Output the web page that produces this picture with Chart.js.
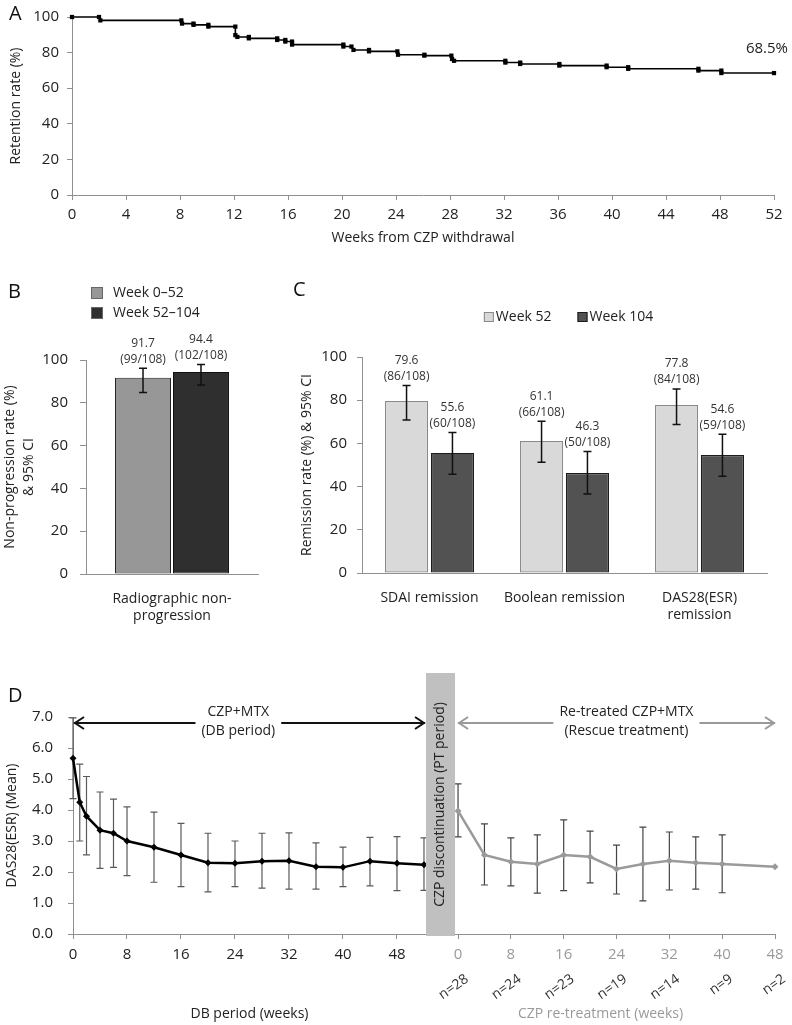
<!DOCTYPE html>
<html>
<head>
<meta charset="utf-8">
<script src="https://cdn.jsdelivr.net/npm/chart.js@4.4.1/dist/chart.umd.min.js"></script>
<style>
  body { margin: 0; background: #fff; width: 792px; height: 1025px; position: relative; overflow: hidden; }
  canvas { position: absolute; }
</style>
</head>
<body>
<canvas id="chartA" width="792" height="250" style="left:0;top:0"></canvas>
<canvas id="chartB" width="290" height="360" style="left:0;top:270px"></canvas>
<canvas id="chartC" width="502" height="360" style="left:290px;top:270px"></canvas>
<canvas id="chartD" width="792" height="375" style="left:0;top:650px"></canvas>
<script>
// ---------- data ----------
// A: retention (Kaplan-Meier steps)
const kmWeeks = [0, 2.0, 2.1, 8.1, 8.15, 9.0, 9.0, 10.1, 10.1, 12.1, 12.1, 12.25, 13.1, 13.1, 15.2, 15.2,
  15.8, 15.8, 16.3, 16.3, 20.1, 20.1, 20.7, 20.85, 22.0, 22.0, 24.1, 24.15, 26.1, 26.1, 28.1, 28.15,
  28.3, 32.1, 32.1, 33.2, 33.2, 36.1, 36.1, 39.6, 39.6, 41.2, 41.2, 46.4, 46.4, 48.1, 48.1, 52];
const kmRetention = [100, 100, 98.1, 98.1, 96.3, 96.3, 95.6, 95.6, 94.6, 94.6, 89.8, 88.8, 88.8, 88.0, 88.0, 87.1,
  87.1, 86.2, 86.2, 84.5, 84.5, 83.4, 83.4, 81.5, 81.5, 80.7, 80.7, 78.8, 78.8, 78.3, 78.3, 76.4,
  75.4, 75.4, 74.4, 74.4, 73.6, 73.6, 72.7, 72.7, 71.8, 71.8, 70.9, 70.9, 69.9, 69.9, 68.5, 68.5];

// B: radiographic non-progression
const bCategories = [["Radiographic non-", "progression"]];
const bWeek0to52 = [91.7];
const bWeek0to52Low = [84.8];
const bWeek0to52High = [96.1];
const bWeek0to52N = ["99/108"];
const bWeek52to104 = [94.4];
const bWeek52to104Low = [88.3];
const bWeek52to104High = [97.9];
const bWeek52to104N = ["102/108"];

// C: remission
const cCategories = ["SDAI remission", "Boolean remission", ["DAS28(ESR)", "remission"]];
const cWeek52 = [79.6, 61.1, 77.8];
const cWeek52Low = [70.8, 51.3, 68.8];
const cWeek52High = [86.8, 70.3, 85.2];
const cWeek52N = ["86/108", "66/108", "84/108"];
const cWeek104 = [55.6, 46.3, 54.6];
const cWeek104Low = [45.7, 36.6, 44.8];
const cWeek104High = [65.1, 56.2, 64.2];
const cWeek104N = ["60/108", "50/108", "59/108"];

// D: DAS28(ESR) mean
const dbWeeks = [0, 1, 2, 4, 6, 8, 12, 16, 20, 24, 28, 32, 36, 40, 44, 48, 52];
const dbMean = [5.67, 4.25, 3.8, 3.35, 3.25, 3.0, 2.8, 2.55, 2.3, 2.28, 2.35, 2.36, 2.17, 2.15, 2.35, 2.28, 2.23];
const dbLow = [4.37, 3.0, 2.55, 2.12, 2.15, 1.88, 1.67, 1.53, 1.36, 1.53, 1.48, 1.45, 1.45, 1.53, 1.55, 1.4, 1.41];
const dbHigh = [6.97, 5.48, 5.08, 4.58, 4.35, 4.1, 3.93, 3.57, 3.25, 3.0, 3.25, 3.26, 2.94, 2.8, 3.12, 3.14, 3.1];
const dbTicks = [0, 8, 16, 24, 32, 40, 48];
const rtWeeks = [0, 4, 8, 12, 16, 20, 24, 28, 32, 36, 40, 48];
const rtMean = [3.97, 2.55, 2.33, 2.26, 2.55, 2.49, 2.1, 2.26, 2.36, 2.3, 2.26, 2.17];
const rtLow = [3.13, 1.58, 1.55, 1.32, 1.4, 1.65, 1.29, 1.07, 1.42, 1.45, 1.33, null];
const rtHigh = [4.84, 3.55, 3.1, 3.2, 3.68, 3.32, 2.87, 3.45, 3.29, 3.13, 3.2, null];
const rtTicks = [0, 8, 16, 24, 32, 40, 48];
const nCounts = [28, 24, 23, 19, 14, 9, 2];

// ---------- common ----------
const FONT = "'Open Sans', sans-serif";
const AXIS = "#909090";
Chart.defaults.font.family = FONT;
Chart.defaults.font.size = 14;
Chart.defaults.color = "#222";
Chart.defaults.animation = false;
Chart.defaults.plugins.legend.display = false;
Chart.defaults.plugins.tooltip.enabled = false;

function letter(id, text, x, y) {
    return {
        id: id,
        afterDraw(chart) {
            const ctx = chart.ctx;
            ctx.save();
            ctx.font = "20px " + FONT;
            ctx.fillStyle = "#111";
            ctx.textAlign = "left";
            ctx.textBaseline = "middle";
            ctx.fillText(text, x, y);
            ctx.restore();
        }
    };
}

// error bars + value labels on bars
const barLabels = {
    id: "barLabels",
    afterDatasetsDraw(chart) {
        const ctx = chart.ctx;
        const y = chart.scales.y;
        chart.data.datasets.forEach((ds, i) => {
            chart.getDatasetMeta(i).data.forEach((bar, j) => {
                const top = y.getPixelForValue(ds.ciHigh[j]);
                const bottom = y.getPixelForValue(ds.ciLow[j]);
                ctx.save();
                ctx.strokeStyle = "#111";
                ctx.lineWidth = 1.5;
                ctx.beginPath();
                ctx.moveTo(bar.x, top); ctx.lineTo(bar.x, bottom);
                ctx.moveTo(bar.x - 4, top); ctx.lineTo(bar.x + 4, top);
                ctx.moveTo(bar.x - 4, bottom); ctx.lineTo(bar.x + 4, bottom);
                ctx.stroke();
                ctx.fillStyle = "#333";
                ctx.font = "12px " + FONT;
                ctx.textAlign = "center";
                ctx.textBaseline = "middle";
                ctx.fillText(ds.data[j].toFixed(1), bar.x, top - 25);
                ctx.fillText("(" + ds.counts[j] + ")", bar.x, top - 9);
                ctx.restore();
            });
        });
    }
};

function yAxis(width, title, titlePad, tickPad, extra) {
    return Object.assign({
        min: 0, max: 100,
        ticks: {stepSize: 20, padding: tickPad, font: {size: 15}},
        grid: {drawOnChartArea: false, tickLength: 6, color: AXIS},
        border: {color: AXIS},
        title: {display: true, text: title, font: {size: 14}, padding: {top: titlePad, bottom: 0}},
        afterFit: s => { s.width = width; }
    }, extra || {});
}

function catAxis(height) {
    return {
        grid: {display: false, drawTicks: false},
        border: {display: true, color: AXIS},
        ticks: {padding: 17, font: {size: 14}},
        afterFit: s => { s.height = height; }
    };
}

// ---------- A ----------
new Chart(document.getElementById("chartA"), {
    type: "line",
    data: {
        datasets: [{
            data: kmWeeks.map((w, i) => ({x: w, y: kmRetention[i]})),
            borderColor: "#000",
            borderWidth: 1.6,
            pointStyle: "rect",
            pointRadius: 3,
            pointBackgroundColor: "#000",
            pointBorderWidth: 0,
            tension: 0,
            clip: false
        }]
    },
    options: {
        responsive: false,
        layout: {padding: {left: 0, right: 18, top: 14, bottom: 0}},
        scales: {
            x: {
                type: "linear", min: 0, max: 52,
                ticks: {stepSize: 4, padding: 6, font: {size: 15}},
                grid: {drawOnChartArea: false, tickLength: 5, color: AXIS},
                border: {color: AXIS},
                title: {display: true, text: "Weeks from CZP withdrawal", font: {size: 14}, padding: {top: 0, bottom: 4}},
                afterFit: s => { s.height = 55; }
            },
            y: yAxis(72, "Retention rate (%)", 7.5, 8, {grid: {drawOnChartArea: false, tickLength: 5, color: AXIS}})
        }
    },
    plugins: [letter("letterA", "A", 9, 14), {
        id: "lastValue",
        afterDraw(chart) {
            const meta = chart.getDatasetMeta(0);
            const last = meta.data[meta.data.length - 1];
            const ctx = chart.ctx;
            ctx.save();
            ctx.font = "15px " + FONT;
            ctx.fillStyle = "#222";
            ctx.textAlign = "right";
            ctx.textBaseline = "middle";
            ctx.fillText(kmRetention[kmRetention.length - 1].toFixed(1) + "%", last.x + 14, last.y - 24);
            ctx.restore();
        }
    }]
});

// ---------- B ----------
new Chart(document.getElementById("chartB"), {
    type: "bar",
    data: {
        labels: bCategories,
        datasets: [
            {label: "Week 0–52", data: bWeek0to52, ciLow: bWeek0to52Low, ciHigh: bWeek0to52High, counts: bWeek0to52N,
             backgroundColor: "#979797", borderColor: "#222", borderWidth: 1, borderSkipped: false},
            {label: "Week 52–104", data: bWeek52to104, ciLow: bWeek52to104Low, ciHigh: bWeek52to104High, counts: bWeek52to104N,
             backgroundColor: "#2f2f2f", borderColor: "#111", borderWidth: 1, borderSkipped: false}
        ]
    },
    options: {
        responsive: false,
        categoryPercentage: 0.674,
        barPercentage: 0.966,
        layout: {padding: {left: 0, right: 32, top: 90, bottom: 0}},
        scales: {
            x: catAxis(56),
            y: yAxis(86, ["Non-progression rate (%)", "& 95% CI"], 1, 12, {
                title: {display: true, text: ["Non-progression rate (%)", "& 95% CI"], font: {size: 14, lineHeight: 1.35}, padding: {top: 1, bottom: 0}}
            })
        }
    },
    plugins: [barLabels, letter("letterB", "B", 8, 22), {
        id: "legendB",
        afterDraw(chart) {
            const ctx = chart.ctx;
            ctx.save();
            ctx.font = "14px " + FONT;
            ctx.textBaseline = "middle";
            chart.data.datasets.forEach((ds, i) => {
                const cy = 23 + i * 20;
                ctx.fillStyle = ds.backgroundColor;
                ctx.fillRect(91, cy - 6, 12, 12);
                ctx.strokeStyle = "#666";
                ctx.lineWidth = 1;
                ctx.strokeRect(91.5, cy - 5.5, 11, 11);
                ctx.fillStyle = "#222";
                ctx.fillText(ds.label, 113, cy);
            });
            ctx.restore();
        }
    }]
});

// ---------- C ----------
new Chart(document.getElementById("chartC"), {
    type: "bar",
    data: {
        labels: cCategories,
        datasets: [
            {label: "Week 52", data: cWeek52, ciLow: cWeek52Low, ciHigh: cWeek52High, counts: cWeek52N,
             backgroundColor: "#d9d9d9", borderColor: "#8a8a8a", borderWidth: 1.2, borderSkipped: false},
            {label: "Week 104", data: cWeek104, ciLow: cWeek104Low, ciHigh: cWeek104High, counts: cWeek104N,
             backgroundColor: "#525252", borderColor: "#1c1c1c", borderWidth: 1.2, borderSkipped: false}
        ]
    },
    options: {
        responsive: false,
        categoryPercentage: 0.68,
        barPercentage: 0.94,
        layout: {padding: {left: 0, right: 25, top: 87, bottom: 0}},
        scales: {
            x: catAxis(57),
            y: yAxis(72, "Remission rate (%) & 95% CI", 8.5, 10, {grid: {drawOnChartArea: false, tickLength: 5, color: AXIS}})
        }
    },
    plugins: [barLabels, letter("letterC", "C", 3, 20), {
        id: "legendC",
        afterDraw(chart) {
            const ctx = chart.ctx;
            const area = chart.chartArea;
            ctx.save();
            ctx.font = "14px " + FONT;
            ctx.textBaseline = "middle";
            const items = chart.data.datasets.map(ds => ({ds: ds, w: 12 + ctx.measureText(ds.label).width}));
            const gap = 26;
            const total = items.reduce((s, it) => s + it.w, 0) + gap * (items.length - 1);
            let x = (area.left + area.right) / 2 - total / 2 + 4;
            const cy = 47;
            items.forEach(it => {
                ctx.fillStyle = it.ds.backgroundColor;
                ctx.fillRect(x, cy - 5, 10, 10);
                ctx.strokeStyle = it.ds.borderColor;
                ctx.lineWidth = 1;
                ctx.strokeRect(x + 0.5, cy - 4.5, 9, 9);
                ctx.fillStyle = "#222";
                ctx.fillText(it.ds.label, x + 12, cy);
                x += it.w + gap;
            });
            ctx.restore();
        }
    }]
});

// ---------- D ----------
function drawArrow(ctx, x1, x2, y, cx, lines, color) {
    ctx.save();
    ctx.font = "14px " + FONT;
    const tw = Math.max(...lines.map(l => ctx.measureText(l).width));
    ctx.strokeStyle = color;
    ctx.lineWidth = 2;
    ctx.beginPath();
    ctx.moveTo(x1, y); ctx.lineTo(cx - tw / 2 - 6, y);
    ctx.moveTo(cx + tw / 2 + 6, y); ctx.lineTo(x2, y);
    ctx.stroke();
    ctx.beginPath();
    ctx.moveTo(x1 + 10, y - 6); ctx.lineTo(x1 + 1, y); ctx.lineTo(x1 + 10, y + 6);
    ctx.moveTo(x2 - 10, y - 6); ctx.lineTo(x2 - 1, y); ctx.lineTo(x2 - 10, y + 6);
    ctx.stroke();
    ctx.fillStyle = "#222";
    ctx.textAlign = "center";
    ctx.textBaseline = "middle";
    ctx.fillText(lines[0], cx, y - 11);
    ctx.fillText(lines[1], cx, y + 8);
    ctx.restore();
}

new Chart(document.getElementById("chartD"), {
    type: "line",
    data: {
        datasets: [
            {data: dbWeeks.map((w, i) => ({x: w, y: dbMean[i]})), errLow: dbLow, errHigh: dbHigh, errColor: "#5a5a5a",
             xAxisID: "x", borderColor: "#000", borderWidth: 2.5, pointStyle: "rectRot", pointRadius: 3.5,
             pointBackgroundColor: "#000", pointBorderWidth: 0, tension: 0, clip: false},
            {data: rtWeeks.map((w, i) => ({x: w, y: rtMean[i]})), errLow: rtLow, errHigh: rtHigh, errColor: "#444",
             xAxisID: "x2", borderColor: "#9a9a9a", borderWidth: 2.5, pointStyle: "rectRot", pointRadius: 3.5,
             pointBackgroundColor: "#9a9a9a", pointBorderWidth: 0, tension: 0, clip: false}
        ]
    },
    options: {
        responsive: false,
        layout: {padding: {left: 0, right: 17, top: 67, bottom: 0}},
        scales: {
            x: {
                type: "linear", position: "bottom", stack: "weeks", stackWeight: 353,
                min: 0, max: 52.3,
                ticks: {padding: 7, font: {size: 15}},
                afterBuildTicks: s => { s.ticks = dbTicks.map(v => ({value: v})); },
                grid: {drawOnChartArea: false, tickLength: 5, color: AXIS},
                border: {color: AXIS},
                title: {display: true, text: "DB period (weeks)", font: {size: 14}, padding: {top: 0, bottom: 3}},
                afterFit: s => { s.height = 91; }
            },
            x2: {
                type: "linear", position: "bottom", stack: "weeks", stackWeight: 349,
                min: -4.85, max: 48,
                ticks: {padding: 7, font: {size: 15}, color: "#9a9a9a"},
                afterBuildTicks: s => { s.ticks = rtTicks.map(v => ({value: v})); },
                grid: {drawOnChartArea: false, tickLength: 5, color: AXIS},
                border: {color: AXIS},
                title: {display: true, text: "CZP re-treatment (weeks)", font: {size: 14}, color: "#9a9a9a", padding: {top: 0, bottom: 3}},
                afterFit: s => { s.height = 91; }
            },
            y: {
                min: 0, max: 7,
                ticks: {stepSize: 1, padding: 15, font: {size: 15}, callback: v => v.toFixed(1)},
                grid: {drawOnChartArea: false, tickLength: 5, color: AXIS},
                border: {color: AXIS},
                title: {display: true, text: "DAS28(ESR) (Mean)", font: {size: 14}, padding: {top: 4, bottom: 0}},
                afterFit: s => { s.width = 73; }
            }
        }
    },
    plugins: [letter("letterD", "D", 8, 46), {
        id: "errorBarsD",
        beforeDatasetsDraw(chart) {
            const ctx = chart.ctx;
            const y = chart.scales.y;
            chart.data.datasets.forEach((ds, i) => {
                chart.getDatasetMeta(i).data.forEach((pt, j) => {
                    if (ds.errHigh[j] == null) return;
                    const top = y.getPixelForValue(ds.errHigh[j]);
                    const bottom = y.getPixelForValue(ds.errLow[j]);
                    ctx.save();
                    ctx.strokeStyle = ds.errColor;
                    ctx.lineWidth = 1.2;
                    ctx.beginPath();
                    ctx.moveTo(pt.x, top); ctx.lineTo(pt.x, bottom);
                    ctx.moveTo(pt.x - 3.5, top); ctx.lineTo(pt.x + 3.5, top);
                    ctx.moveTo(pt.x - 3.5, bottom); ctx.lineTo(pt.x + 3.5, bottom);
                    ctx.stroke();
                    ctx.restore();
                });
            });
        },
        afterDraw(chart) {
            const ctx = chart.ctx;
            const {x, x2} = chart.scales;
            const area = chart.chartArea;

            // discontinuation band
            const bandL = x.right, bandR = x2.getPixelForValue(0) - 3;
            const bandT = area.top - 44, bandB = area.bottom + 2;
            ctx.save();
            ctx.fillStyle = "#c0c0c0";
            ctx.fillRect(bandL, bandT, bandR - bandL, bandB - bandT);
            ctx.translate((bandL + bandR) / 2, (bandT + bandB) / 2);
            ctx.rotate(-Math.PI / 2);
            ctx.font = "14px " + FONT;
            ctx.fillStyle = "#222";
            ctx.textAlign = "center";
            ctx.textBaseline = "middle";
            ctx.fillText("CZP discontinuation (PT period)", 0, 0);
            ctx.restore();

            // period arrows
            const ay = area.top + 6;
            drawArrow(ctx, x.left + 1, x.right - 1, ay, x.getPixelForValue(24.5), ["CZP+MTX", "(DB period)"], "#111");
            drawArrow(ctx, x2.getPixelForValue(0), x2.right, ay, x2.getPixelForValue(25.5),
                ["Re-treated CZP+MTX", "(Rescue treatment)"], "#9a9a9a");

            // patient counts
            ctx.save();
            ctx.font = "14px " + FONT;
            ctx.fillStyle = "#333";
            ctx.textAlign = "right";
            ctx.textBaseline = "top";
            rtTicks.forEach((w, i) => {
                ctx.save();
                ctx.translate(x2.getPixelForValue(w) + 5, area.bottom + 38);
                ctx.rotate(-35 * Math.PI / 180);
                ctx.fillText("n=" + nCounts[i], 0, 0);
                ctx.restore();
            });
            ctx.restore();
        }
    }]
});
</script>
</body>
</html>
